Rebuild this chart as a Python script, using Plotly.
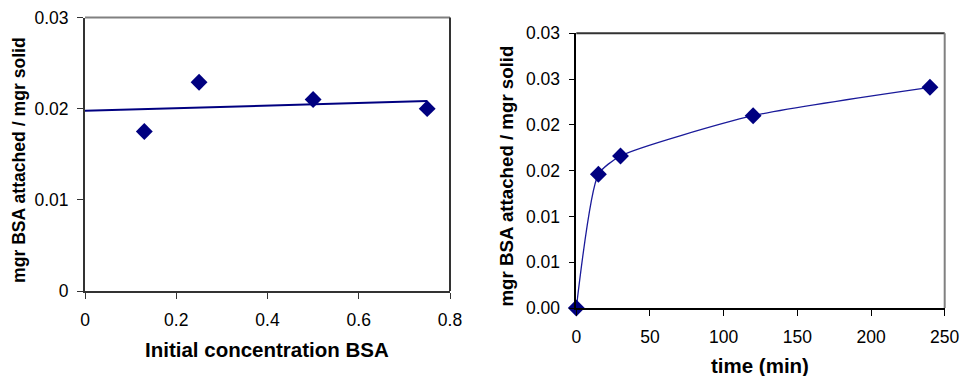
import numpy as np
import plotly.graph_objects as go

# ---- data ----
conc_x = [0.13, 0.25, 0.50, 0.75]
conc_y = [0.0175, 0.0229, 0.0210, 0.0200]

time_x = [0, 15, 30, 120, 240]
time_y = [0.0000, 0.0146, 0.0166, 0.0210, 0.0241]

left_xticks = [0, 0.2, 0.4, 0.6, 0.8]
left_xtext = ["0", "0.2", "0.4", "0.6", "0.8"]
left_yticks = [0, 0.01, 0.02, 0.03]
left_ytext = ["0", "0.01", "0.02", "0.03"]
right_xticks = [0, 50, 100, 150, 200, 250]
right_xtext = ["0", "50", "100", "150", "200", "250"]
right_yticks = [0, 0.005, 0.01, 0.015, 0.02, 0.025, 0.03]
right_ytext = ["0.00", "0.01", "0.01", "0.02", "0.02", "0.03", "0.03"]

# linear trendline for left panel
slope, intercept = np.polyfit(conc_x, conc_y, 1)
trend_x = [0, max(conc_x)]
trend_y = [intercept + slope * v for v in trend_x]

W, H = 962, 376
NAVY = "#000080"
FONT = "Liberation Sans, Arial, sans-serif"

def px(x):
    return x / W

def py(y):
    return 1 - y / H

fig = go.Figure()
fig.add_trace(go.Scatter(x=trend_x, y=trend_y, mode="lines",
                         line=dict(color=NAVY, width=2), xaxis="x", yaxis="y"))
fig.add_trace(go.Scatter(x=conc_x, y=conc_y, mode="markers",
                         marker=dict(symbol="diamond", size=13, color=NAVY),
                         xaxis="x", yaxis="y"))
fig.add_trace(go.Scatter(x=time_x, y=time_y, mode="lines+markers",
                         line=dict(color="#1a1a9a", width=1.3, shape="spline", smoothing=0.6),
                         marker=dict(symbol="diamond", size=13, color=NAVY),
                         xaxis="x2", yaxis="y2", cliponaxis=False))

tickfont = dict(family=FONT, size=17.5, color="black")
L_x0, L_x1, L_yt, L_yb = 85, 450, 17.5, 291
R_x0, R_x1, R_yt, R_yb = 576.3, 944.7, 33.3, 308
common = dict(showgrid=False, zeroline=False, ticks="outside", ticklen=6,
              tickcolor="#333333", tickfont=tickfont, showline=True, linewidth=2,
              linecolor="#333333", automargin=False)

fig.update_layout(
    template="none",
    width=W, height=H, margin=dict(l=0, r=0, t=0, b=0, autoexpand=False),
    paper_bgcolor="white", plot_bgcolor="white", showlegend=False,
    xaxis=dict(domain=[px(L_x0), px(L_x1)], range=[0, 0.8], tickvals=left_xticks,
               ticktext=left_xtext, anchor="y", ticklabelstandoff=6, **common),
    yaxis=dict(domain=[py(L_yb), py(L_yt)], range=[0, 0.03], tickvals=left_yticks,
               ticktext=left_ytext, anchor="x", ticklabelstandoff=5, **common),
    xaxis2=dict(domain=[px(R_x0), px(R_x1)], range=[0, 250], tickvals=right_xticks,
                ticktext=right_xtext, anchor="y2", ticklabelstandoff=6,
                **{**common, "linewidth": 1.5, "linecolor": "black", "tickcolor": "black"}),
    yaxis2=dict(domain=[py(R_yb), py(R_yt)], range=[0, 0.03], tickvals=right_yticks,
                ticktext=right_ytext, anchor="x2", ticklabelstandoff=5,
                **{**common, "linewidth": 1.5, "linecolor": "black", "tickcolor": "black"}),
)

shapes = [
    dict(type="line", xref="paper", yref="paper", x0=px(L_x0), x1=px(L_x1),
         y0=py(L_yt), y1=py(L_yt), line=dict(color="#808080", width=2)),
    dict(type="line", xref="paper", yref="paper", x0=px(L_x1), x1=px(L_x1),
         y0=py(L_yb), y1=py(L_yt), line=dict(color="#333333", width=2)),
    dict(type="line", xref="paper", yref="paper", x0=px(R_x0), x1=px(R_x1),
         y0=py(R_yt), y1=py(R_yt), line=dict(color="#333333", width=2)),
    dict(type="line", xref="paper", yref="paper", x0=px(R_x1), x1=px(R_x1),
         y0=py(R_yb), y1=py(R_yt), line=dict(color="#808080", width=2)),
]
fig.update_layout(shapes=shapes)

annotations = [
    dict(text="<b>Initial concentration BSA</b>", x=px(266.7), y=py(349),
         font=dict(family=FONT, size=20.5, color="black")),
    dict(text="<b>time (min)</b>", x=px(759.7), y=py(365),
         font=dict(family=FONT, size=20.5, color="black")),
    dict(text="<b>mgr BSA attached / mgr solid</b>", x=px(19), y=py(160), textangle=-90,
         font=dict(family=FONT, size=17.6, color="black")),
    dict(text="<b>mgr BSA attached / mgr solid</b>", x=px(506.7), y=py(175.8), textangle=-90,
         font=dict(family=FONT, size=18.7, color="black")),
]
for a in annotations:
    a.update(xref="paper", yref="paper", xanchor="center", yanchor="middle", showarrow=False)
fig.update_layout(annotations=annotations)

fig.write_html("out.html")
